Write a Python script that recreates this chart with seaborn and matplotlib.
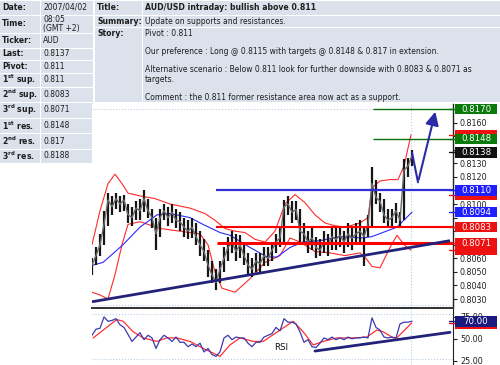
import numpy as np
import pandas as pd
import matplotlib
matplotlib.use("Agg")
import matplotlib.pyplot as plt
import matplotlib.transforms as mtransforms
from matplotlib.patches import Rectangle
import seaborn as sns

# ---------------- header data ----------------
info_labels = ["Date:", "Time:", "Ticker:", "Last:", "Pivot:",
               r"$\mathbf{1^{st}}$ sup.", r"$\mathbf{2^{nd}}$ sup.", r"$\mathbf{3^{rd}}$ sup.",
               r"$\mathbf{1^{st}}$ res.", r"$\mathbf{2^{nd}}$ res.", r"$\mathbf{3^{rd}}$ res."]
info_values = ["2007/04/02", "08:05\n(GMT +2)", "AUD", "0.8137", "0.811", "0.811",
               "0.8083", "0.8071", "0.8148", "0.817", "0.8188"]
story_fields = ["Title:", "Summary:", "Story:"]
title_text = "AUD/USD intraday: bullish above 0.811"
summary_text = "Update on supports and resistances."
story_lines = ["Pivot : 0.811",
               "Our preference : Long @ 0.8115 with targets @ 0.8148 & 0.817 in extension.",
               "Alternative scenario : Below 0.811 look for further downside with 0.8083 & 0.8071 as",
               "targets.",
               "Comment : the 0.811 former resistance area now act as a support."]

# ---------------- price data (bar index) ----------------
close = [0.8055, 0.8062, 0.8070, 0.8085, 0.8103, 0.8098, 0.8104, 0.8100, 0.8103, 0.8092,
         0.8090, 0.8097, 0.8095, 0.8104, 0.8095, 0.8090, 0.8078, 0.8090, 0.8095, 0.8090,
         0.8094, 0.8088, 0.8087, 0.8083, 0.8080, 0.8083, 0.8076, 0.8070, 0.8065, 0.8055,
         0.8048, 0.8042, 0.8052, 0.8060, 0.8068, 0.8072, 0.8065, 0.8070, 0.8062, 0.8055,
         0.8052, 0.8058, 0.8056, 0.8062, 0.8060, 0.8066, 0.8072, 0.8075, 0.8098, 0.8100,
         0.8094, 0.8096, 0.8080, 0.8078, 0.8072, 0.8075, 0.8068, 0.8066, 0.8072, 0.8070,
         0.8076, 0.8074, 0.8077, 0.8072, 0.8078, 0.8075, 0.8078, 0.8080, 0.8076, 0.8085,
         0.8115, 0.8105, 0.8102, 0.8092, 0.8088, 0.8090, 0.8095, 0.8088, 0.8125, 0.8128,
         0.8136]
high = [0.8060, 0.8068, 0.8078, 0.8095, 0.8108, 0.8106, 0.8108, 0.8106, 0.8107, 0.8100,
        0.8098, 0.8102, 0.8104, 0.8110, 0.8104, 0.8096, 0.8090, 0.8096, 0.8100, 0.8098,
        0.8100, 0.8096, 0.8094, 0.8090, 0.8088, 0.8090, 0.8086, 0.8080, 0.8074, 0.8066,
        0.8058, 0.8052, 0.8058, 0.8068, 0.8076, 0.8080, 0.8078, 0.8077, 0.8072, 0.8064,
        0.8060, 0.8064, 0.8064, 0.8068, 0.8068, 0.8072, 0.8078, 0.8082, 0.8103, 0.8106,
        0.8102, 0.8102, 0.8096, 0.8086, 0.8080, 0.8082, 0.8076, 0.8074, 0.8080, 0.8078,
        0.8082, 0.8082, 0.8084, 0.8080, 0.8086, 0.8082, 0.8086, 0.8088, 0.8084, 0.8092,
        0.8127, 0.8118, 0.8108, 0.8104, 0.8096, 0.8096, 0.8101, 0.8094, 0.8133, 0.8134,
        0.8140]
low = [0.8048, 0.8055, 0.8062, 0.8070, 0.8084, 0.8092, 0.8096, 0.8094, 0.8095, 0.8086,
       0.8084, 0.8088, 0.8088, 0.8094, 0.8090, 0.8082, 0.8066, 0.8076, 0.8088, 0.8084,
       0.8086, 0.8082, 0.8080, 0.8076, 0.8074, 0.8075, 0.8070, 0.8062, 0.8058, 0.8046,
       0.8042, 0.8037, 0.8042, 0.8050, 0.8058, 0.8064, 0.8058, 0.8060, 0.8055, 0.8048,
       0.8046, 0.8050, 0.8050, 0.8054, 0.8054, 0.8058, 0.8064, 0.8068, 0.8072, 0.8092,
       0.8086, 0.8088, 0.8072, 0.8070, 0.8064, 0.8066, 0.8060, 0.8062, 0.8064, 0.8062,
       0.8066, 0.8066, 0.8068, 0.8064, 0.8068, 0.8066, 0.8070, 0.8072, 0.8054, 0.8076,
       0.8082, 0.8100, 0.8094, 0.8086, 0.8082, 0.8082, 0.8086, 0.8083, 0.8088, 0.8120,
       0.8128]

upper_x = [0, 2, 4, 5.75, 7.5, 9, 12, 15.75, 19.5, 24.5, 28.25, 30.75, 33.25, 35.75, 38.25,
           40.75, 43.25, 45.75, 48.25, 50.75, 53.25, 55.75, 58.25, 60.75, 63.25, 67, 69, 70,
           72, 74.5, 76.5, 78, 79.75]
upper_y = [0.8070, 0.8095, 0.8115, 0.8122, 0.8115, 0.8108, 0.8106, 0.8104, 0.8100, 0.8097,
           0.8093, 0.8088, 0.8082, 0.8080, 0.8079, 0.8074, 0.8072, 0.8080, 0.8100, 0.8107,
           0.8101, 0.8092, 0.8086, 0.8084, 0.8083, 0.8086, 0.8090, 0.8112, 0.8117, 0.8118,
           0.8118, 0.8128, 0.8151]
lower_x = [0, 2, 4, 5.75, 7.5, 9, 12, 17, 22, 27, 29, 30.75, 32.5, 35.75, 39.5, 43.25, 47,
           49.5, 52, 55.75, 59.5, 63.25, 67, 68.5, 70, 72, 74.5, 76.25, 78, 79.75]
lower_y = [0.8035, 0.8033, 0.8030, 0.8048, 0.8070, 0.8085, 0.8087, 0.8082, 0.8080, 0.8078,
           0.8070, 0.8050, 0.8038, 0.8035, 0.8045, 0.8057, 0.8062, 0.8075, 0.8072, 0.8065,
           0.8064, 0.8062, 0.8064, 0.8060, 0.8054, 0.8053, 0.8068, 0.8077, 0.8070, 0.8066]
ma_x = [0.25, 2.75, 7.75, 12, 16.25, 19.5, 24.5, 27.75, 32, 34.5, 39.5, 43.75, 46.25, 49.5,
        52.75, 57, 62, 67.75, 70, 76.25, 80]
ma_y = [0.8055, 0.8057, 0.8070, 0.8083, 0.8092, 0.8093, 0.8090, 0.8085, 0.8079, 0.8077,
        0.8068, 0.8061, 0.8061, 0.8068, 0.8072, 0.8073, 0.8076, 0.8075, 0.8076, 0.8083,
        0.8094]

trend_x = [0, 89.5]
trend_y = [0.8028, 0.8073]
scen_x = [80, 81.5, 86]
scen_y = [0.8138, 0.8116, 0.8170]

level_vals = [0.8110, 0.8083, 0.8071, 0.8170, 0.8148]
level_start = [31, 31, 31.25, 70.25, 70.25]
level_cols = ["#2f2fd8", "#ff0000", "#ff0000", "#0a6e0a", "#0a6e0a"]
level_lw = [1.6, 1.5, 2.2, 1.0, 1.0]

yticks_main = [0.8030, 0.8040, 0.8050, 0.8060, 0.8070, 0.8080, 0.8090, 0.8100,
               0.8110, 0.8120, 0.8130, 0.8140, 0.8150, 0.8160]
ytick_text = ["0.8030", "0.8040", "0.8050", "0.8060", "", "", "", "0.8100",
              "", "0.8120", "0.8130", "", "", "0.8160"]

# value tags, drawn in this order (later ones on top); hidden ones carry no text
tag_vals = [0.8151, 0.8170, 0.8148, 0.8138, 0.8107, 0.8110, 0.8094, 0.8083, 0.8066, 0.8071]
tag_cols = ["#ee1111", "#0a7a0a", "#0a7a0a", "#111111", "#ee1111", "#1f1fff", "#1f1fff",
            "#ee1111", "#ee1111", "#ee1111"]
tag_show = [False, True, True, True, False, True, True, True, False, True]

# ---------------- RSI data ----------------
rsi = [54, 61, 62, 75, 70, 71, 73, 66, 63, 55, 47, 52, 57, 49, 54, 51, 39, 49, 54, 51,
       47, 52, 46, 46, 41, 44, 41, 45, 35, 39, 32, 30, 35, 51, 54, 49, 52, 51, 51, 45,
       41, 46, 46, 52, 54, 56, 63, 59, 73, 69, 69, 67, 58, 46, 49, 41, 40, 45, 51, 49,
       52, 49, 51, 49, 52, 50, 51, 51, 52, 51, 74, 63, 60, 52, 51, 52, 51, 67, 69, 69, 70]
sig_x = [0.3, 2.8, 6.2, 7.8, 10.3, 12.8, 16.2, 18.7, 21.2, 24.5, 27.8, 32, 34.5, 37, 40.3,
         42.8, 47, 50.3, 52.8, 55.3, 57.8, 61.2, 65.3, 68.7, 71.2, 72.8, 75.3, 76.2, 79.9]
sig_y = [51, 60, 72, 70, 58, 51, 47, 51, 51, 47, 39, 30, 43, 51, 47, 47, 60, 70, 58, 43,
         47, 51, 51, 52, 60, 58, 51, 51, 68]
rsi_trend_x = [55.75, 89.5]
rsi_trend_y = [36, 57.4]
rsi_ticks = [25, 50, 75]
rsi_tag_vals = [68, 70]
rsi_tag_cols = ["#ee1111", "#1a1a80"]
rsi_tag_show = [False, True]

# ---------------- figure ----------------
sns.set_style("white")
plt.rcParams["font.family"] = ["DejaVu Sans"]
fig = plt.figure(figsize=(5, 3.65), dpi=100)

bg = fig.add_axes([0, 0, 1, 1])
bg.set_xlim(0, 500)
bg.set_ylim(365, 0)
bg.axis("off")

CELL = "#dbe2ec"
TXT = "#1e1e1e"
left_rows = [(0, 15), (15, 33), (33, 48), (48, 60), (60, 73), (73, 87), (87, 102),
             (102, 118), (118, 133), (133, 149), (149, 163)]
for (y0, y1), lab, val in zip(left_rows, info_labels, info_values):
    bg.add_patch(Rectangle((0, y0 + 0.5), 40, y1 - y0 - 1, fc=CELL, ec="none"))
    bg.add_patch(Rectangle((41, y0 + 0.5), 52, y1 - y0 - 1, fc=CELL, ec="none"))
    cy = (y0 + y1) / 2
    bg.text(2, cy, lab, fontsize=5.6, fontweight="bold", color=TXT, va="center", ha="left")
    bg.text(43, cy, val, fontsize=5.5, color=TXT, va="center", ha="left", linespacing=1.0)

right_rows = [(0, 15), (15, 27), (27, 102)]
for (y0, y1), lab in zip(right_rows, story_fields):
    bg.add_patch(Rectangle((95, y0 + 0.5), 47, y1 - y0 - 1, fc=CELL, ec="none"))
    bg.add_patch(Rectangle((143, y0 + 0.5), 357, y1 - y0 - 1, fc=CELL, ec="none"))
bg.text(97, 7.5, story_fields[0], fontsize=5.6, fontweight="bold", color=TXT, va="center")
bg.text(97, 21, story_fields[1], fontsize=5.6, fontweight="bold", color=TXT, va="center")
bg.text(97, 34, story_fields[2], fontsize=5.6, fontweight="bold", color=TXT, va="center")
bg.text(145, 7.5, title_text, fontsize=5.6, fontweight="bold", color=TXT, va="center")
bg.text(145, 21, summary_text, fontsize=5.5, color=TXT, va="center")
for yy, line in zip([34, 52, 69, 80, 97], story_lines):
    bg.text(145, yy, line, fontsize=5.5, color=TXT, va="center")


def px_axes(x0, y0, x1, y1):
    return fig.add_axes([x0 / 500, 1 - y1 / 365, (x1 - x0) / 500, (y1 - y0) / 365])


AX_W = 361.0
ax = px_axes(92, 104, 453, 308)
rx = px_axes(92, 308, 453, 365)
XMAX = 90.25


def add_tags(axis, vals, cols, show, fmt, box_h):
    tr = mtransforms.blended_transform_factory(axis.transAxes, axis.transData)
    x0 = 2.0 / AX_W
    w = 42.0 / AX_W
    z = 8
    for v, c, s in zip(vals, cols, show):
        axis.plot([1 - 4.0 / AX_W, 1 + x0], [v, v], transform=tr, color=c, lw=1.0,
                  clip_on=False, zorder=z)
        axis.add_patch(Rectangle((1 + x0, v - box_h / 2), w, box_h, transform=tr, fc=c,
                                 ec="none", clip_on=False, zorder=z))
        if s:
            axis.text(1 + x0 + w / 2, v, fmt.format(v), transform=tr, ha="center",
                      va="center", fontsize=6.2, color="white", clip_on=False,
                      zorder=z + 0.5)
        z += 1


# ---- main price panel
ax.set_xlim(0, XMAX)
ax.set_ylim(0.80234, 0.81737)
ax.axhline(0.8170, color="#b9cde3", lw=0.8, ls=":", zorder=0)
ax.axhline(0.80255, color="#b9cde3", lw=0.8, ls=":", zorder=0)
ax.axvline(79.75, color="#b9cde3", lw=0.8, ls=":", zorder=0)

bars = pd.DataFrame({"i": np.arange(len(close)), "close": close, "high": high, "low": low})
ax.vlines(bars["i"], bars["low"], bars["high"], color="#161616", lw=1.6, zorder=3)
sns.lineplot(data=bars, x="i", y="close", ax=ax, color="#6a6a6a", lw=1.0, zorder=4)

sns.lineplot(x=upper_x, y=upper_y, ax=ax, color="#ff2a2a", lw=0.8, zorder=2)
sns.lineplot(x=lower_x, y=lower_y, ax=ax, color="#ff2a2a", lw=0.8, zorder=2)
sns.lineplot(x=ma_x, y=ma_y, ax=ax, color="#2a2aff", lw=0.8, zorder=2)

for v, s, c, w in zip(level_vals, level_start, level_cols, level_lw):
    ax.hlines(v, s, XMAX, color=c, lw=w, zorder=5)

ax.plot(trend_x, trend_y, color="#22227a", lw=2.0, zorder=6, solid_capstyle="butt")
ax.plot(scen_x[:2], scen_y[:2], color="#2b2ba8", lw=1.5, zorder=7)
ax.annotate("", xy=(scen_x[2], scen_y[2]), xytext=(scen_x[1], scen_y[1]),
            arrowprops=dict(arrowstyle="-|>,head_length=0.8,head_width=0.4",
                            color="#2b2ba8", lw=1.5), zorder=7)

for s in ["top", "left"]:
    ax.spines[s].set_visible(False)
ax.spines["right"].set_color("#222222")
ax.spines["right"].set_linewidth(1.0)
ax.spines["bottom"].set_color("#333333")
ax.spines["bottom"].set_linewidth(1.4)
ax.set_xticks([])
ax.set_xlabel("")
ax.set_ylabel("")
ax.yaxis.tick_right()
ax.set_yticks(yticks_main)
ax.set_yticklabels(ytick_text)
ax.tick_params(axis="y", which="major", right=True, length=3, width=0.8, pad=2,
               labelsize=5.8, colors="#222222")
px_price = (0.81737 - 0.80234) / 204.0
add_tags(ax, tag_vals, tag_cols, tag_show, "{:.4f}", 10.5 * px_price)

# ---- RSI panel
rx.set_xlim(0, XMAX)
rx.set_ylim(20.06, 85.2)
rx.axhline(78.3, color="#b9cde3", lw=0.8, ls=":", zorder=0)
rx.axhline(26.9, color="#b9cde3", lw=0.8, ls=":", zorder=0)
rx.axvline(79.75, color="#b9cde3", lw=0.8, ls=":", zorder=0)
rsi_df = pd.DataFrame({"i": np.arange(len(rsi)), "rsi": rsi})
sns.lineplot(data=rsi_df, x="i", y="rsi", ax=rx, color="#3b3bb0", lw=0.9, zorder=3)
sns.lineplot(x=sig_x, y=sig_y, ax=rx, color="#ff3030", lw=0.9, zorder=2)
rx.plot(rsi_trend_x, rsi_trend_y, color="#22227a", lw=2.0, zorder=4)
rx.text(45.5, 39.5, "RSI", fontsize=6.2, color="#111111", ha="left", va="center")

for s in ["left", "bottom"]:
    rx.spines[s].set_visible(False)
rx.spines["top"].set_color("#333333")
rx.spines["top"].set_linewidth(1.4)
rx.spines["right"].set_color("#222222")
rx.set_xticks([])
rx.set_xlabel("")
rx.set_ylabel("")
rx.yaxis.tick_right()
rx.set_yticks(rsi_ticks)
rx.set_yticklabels([f"{v:.2f}" for v in rsi_ticks])
rx.tick_params(axis="y", right=True, length=3, width=0.8, pad=2, labelsize=5.8,
               colors="#222222")
px_rsi = (85.2 - 20.06) / 57.0
add_tags(rx, rsi_tag_vals, rsi_tag_cols, rsi_tag_show, "{:.2f}", 11 * px_rsi)

fig.savefig("out.png", dpi=100)
